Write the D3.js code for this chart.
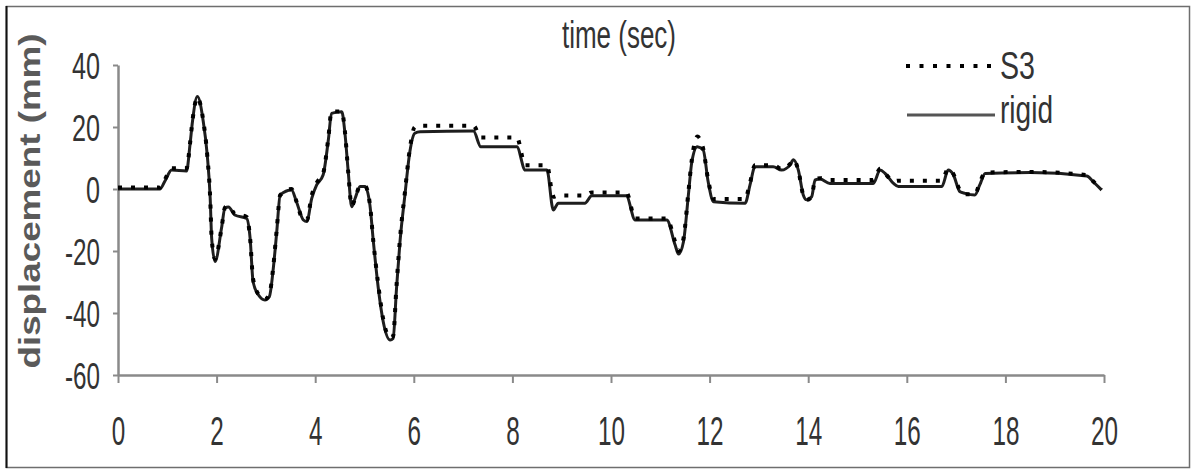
<!DOCTYPE html>
<html>
<head>
<meta charset="utf-8">
<script src="https://cdn.jsdelivr.net/npm/d3@7"></script>
<style>
  body { margin: 0; background: #fff; }
  text { font-family: "Liberation Sans", Arial, sans-serif; }
</style>
</head>
<body>
<svg id="chart" width="1195" height="470"></svg>
<script>
// time (sec) samples shared by both series
var times = [0, 0.85, 0.95, 1.09, 1.39, 1.46, 1.51, 1.61, 1.73, 1.81, 1.87, 1.90, 1.97, 2.10, 2.17, 2.24, 2.37, 2.61, 2.68, 2.74,
  2.85, 2.98, 3.07, 3.15, 3.22, 3.29, 3.52, 3.62, 3.76, 3.83, 3.93, 4.03, 4.16, 4.27, 4.33, 4.54, 4.60, 4.67, 4.74, 4.81,
  4.91, 5.01, 5.11, 5.18, 5.28, 5.38, 5.52, 5.58, 5.65, 5.72, 5.82, 5.92, 6.02, 6.13, 7.21, 7.36, 8.09, 8.26, 8.70, 8.83,
  8.93, 9.47, 9.61, 10.31, 10.49, 11.13, 11.30, 11.37, 11.47, 11.57, 11.64, 11.75, 11.87, 11.97, 12.08, 12.72, 12.82, 12.92, 13.29, 13.46,
  13.63, 13.70, 13.80, 13.90, 13.97, 14.07, 14.14, 14.24, 14.44, 15.32, 15.46, 15.56, 15.73, 15.83, 16.71, 16.84, 16.94, 17.08, 17.18, 17.38,
  17.48, 17.59, 18.5, 19.65, 19.78, 19.95];

var rigid = [0, 0, 2.5, 6.1, 5.8, 14.2, 21.7, 29.8, 21.7, 11, -3, -15.9, -23.4, -12.6, -6.1, -5.8, -8.4, -9.5, -15.9, -29.9,
  -34.2, -35.8, -34.7, -25.6, -13.8, -1.9, -0.3, -4.1, -10, -10.5, -3, 1.3, 4.5, 16.3, 24.4, 24.9, 18.5, 5.6, -5.7, -3,
  0.8, 0.8, -5.2, -17, -32, -42.8, -48.7, -48.2, -32, -17, -1.9, 12, 18, 18.5, 18.7, 13.6, 13.6, 6.1, 6.1, -6.8,
  -4.6, -4.6, -2.2, -2.2, -10, -10, -18, -21, -17, -1.9, 8.8, 13.6, 12.6, 2.4, -4.1, -4.6, 1.3, 7.2, 7.2, 6.1,
  7.7, 9.4, 6.1, -1.9, -3.5, -2.5, 2.9, 3.2, 1.8, 1.8, 6.1, 5, 1.8, 0.8, 0.8, 6.1, 4.7, -0.9, -1.4, -1.9,
  1.3, 5, 5.3, 4.2, 2.4, -0.3];

var s3 = [0.5, 0.5, 3, 6.7, 6.7, 14.5, 22, 29.5, 22, 11, -3, -16, -22.5, -12.6, -6, -5.5, -8, -9, -16, -29,
  -34, -35.5, -34, -25, -13, -2, 0, -4, -10, -10, -2, 2, 5, 17, 25, 25, 19, 5.5, -5.5, -3,
  1, 1, -5, -17, -31, -42, -48, -47.5, -31, -16, -1, 13, 20, 20.4, 20.4, 16.6, 16.6, 7.7, 7.7, -2.5,
  -2.1, -2.1, -1.1, -1.1, -9.5, -9.5, -17, -20, -16, -1, 9.5, 16.9, 13, 3, -3.2, -3.2, 2, 7.7, 7.7, 6.5,
  8, 9.5, 6, -2, -3.5, -2.5, 3, 3.5, 2.9, 2.9, 6.5, 5, 2.5, 2.7, 2.7, 6.5, 5, -0.5, -1.7, -1.7,
  2, 5.3, 5.5, 4.5, 2.5, -0.3];

var xTicks = [0, 2, 4, 6, 8, 10, 12, 14, 16, 18, 20];
var yTicks = [40, 20, 0, -20, -40, -60];

var svg = d3.select("#chart");

svg.append("rect")
    .attr("width", 1195)
    .attr("height", 470)
    .attr("fill", "#fff");

// outer frame
svg.append("rect")
    .attr("x", 6.5)
    .attr("y", 6.5)
    .attr("width", 1183)
    .attr("height", 461)
    .attr("fill", "none")
    .attr("stroke", "#6e6e6e")
    .attr("stroke-width", 1.5);
svg.append("line")
    .attr("x1", 6.5).attr("x2", 6.5)
    .attr("y1", 6).attr("y2", 468)
    .attr("stroke", "#111")
    .attr("stroke-width", 2);

var x = d3.scaleLinear().domain([0, 20]).range([118, 1104]);
var y = d3.scaleLinear().domain([-60, 40]).range([375, 65]);

var xAxis = svg.append("g")
    .attr("transform", "translate(0," + y(-60) + ")")
    .call(d3.axisBottom(x).tickValues(xTicks).tickSize(8).tickSizeOuter(0));

xAxis.select(".domain").attr("stroke", "#8a8a8a").attr("stroke-width", 2.5);
xAxis.selectAll(".tick line").attr("stroke", "#8a8a8a").attr("stroke-width", 2);
xAxis.selectAll(".tick text")
    .attr("y", 70)
    .attr("dy", null)
    .attr("fill", "#333")
    .attr("font-size", 40)
    .attr("textLength", d => String(d).length * 13.5)
    .attr("lengthAdjust", "spacingAndGlyphs");

// plain hyphen for negatives, as in the original
var yAxis = svg.append("g")
    .attr("transform", "translate(" + x(0) + ",0)")
    .call(d3.axisLeft(y).tickValues(yTicks).tickFormat(d => String(d)).tickSize(5).tickSizeOuter(0));

yAxis.select(".domain").attr("stroke", "#8a8a8a").attr("stroke-width", 2.5);
yAxis.selectAll(".tick line").attr("stroke", "#8a8a8a").attr("stroke-width", 2);
yAxis.selectAll(".tick text")
    .attr("x", -18)
    .attr("dy", "0.38em")
    .attr("fill", "#333")
    .attr("font-size", 36)
    .attr("textLength", d => d < 0 ? 35 : (d === 0 ? 14 : 28))
    .attr("lengthAdjust", "spacingAndGlyphs");
xAxis.attr("font-family", null);
yAxis.attr("font-family", null);

var line = d3.line()
    .x((d, i) => x(times[i]))
    .y(d => y(d))
    .curve(d3.curveMonotoneX);

svg.append("path")
    .datum(rigid)
    .attr("d", line)
    .attr("fill", "none")
    .attr("stroke", "#1e1e1e")
    .attr("stroke-width", 3)
    .attr("stroke-linejoin", "round");

svg.append("path")
    .datum(s3)
    .attr("d", line)
    .attr("fill", "none")
    .attr("stroke", "#000")
    .attr("stroke-width", 4)
    .attr("stroke-dasharray", "4 9");

// titles
svg.append("text")
    .attr("x", 562)
    .attr("y", 48)
    .attr("fill", "#333")
    .attr("font-size", 38)
    .attr("textLength", 114)
    .attr("lengthAdjust", "spacingAndGlyphs")
    .text("time (sec)");

svg.append("text")
    .attr("transform", "translate(40,201) rotate(-90)")
    .attr("text-anchor", "middle")
    .attr("fill", "#5a5a5a")
    .attr("font-weight", "bold")
    .attr("font-size", 29)
    .attr("textLength", 335)
    .attr("lengthAdjust", "spacingAndGlyphs")
    .text("displacement (mm)");

// legend
var legend = svg.append("g");
legend.append("line")
    .attr("x1", 906).attr("x2", 994)
    .attr("y1", 66).attr("y2", 66)
    .attr("stroke", "#000")
    .attr("stroke-width", 4)
    .attr("stroke-dasharray", "4 9.5");
legend.append("text")
    .attr("x", 1000).attr("y", 79)
    .attr("fill", "#333")
    .attr("font-size", 38)
    .attr("textLength", 35)
    .attr("lengthAdjust", "spacingAndGlyphs")
    .text("S3");
legend.append("line")
    .attr("x1", 907).attr("x2", 995)
    .attr("y1", 115).attr("y2", 115)
    .attr("stroke", "#555")
    .attr("stroke-width", 3);
legend.append("text")
    .attr("x", 1000).attr("y", 123)
    .attr("fill", "#333")
    .attr("font-size", 38)
    .attr("textLength", 53)
    .attr("lengthAdjust", "spacingAndGlyphs")
    .text("rigid");
</script>
</body>
</html>
